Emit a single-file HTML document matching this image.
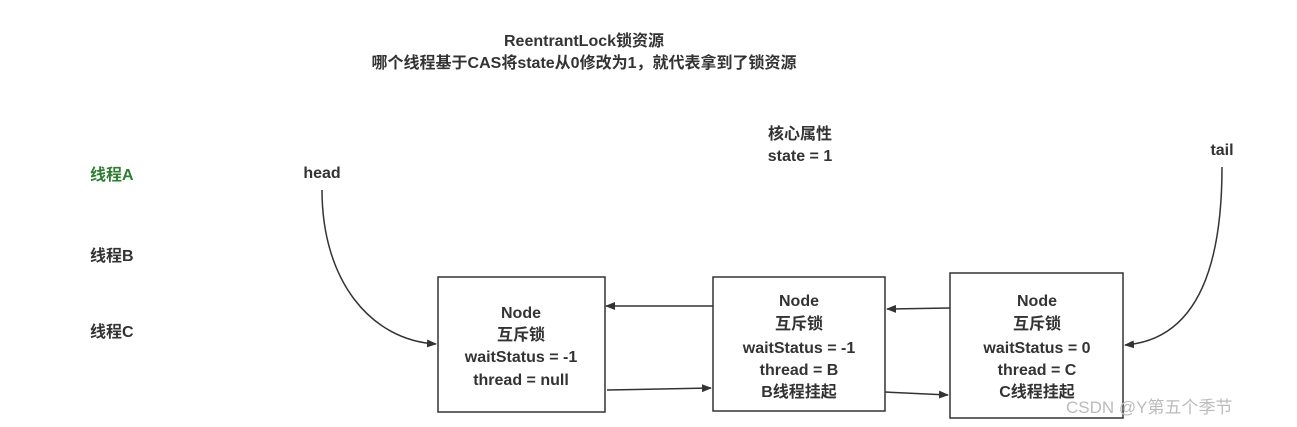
<!DOCTYPE html>
<html><head><meta charset="utf-8"><style>
html,body{margin:0;padding:0;background:#fff;}
svg{display:block}
text{font-family:"Liberation Sans","Noto Sans CJK SC",sans-serif;font-weight:bold;font-size:16px;fill:#333;}
</style></head><body>
<svg width="1297" height="427" viewBox="0 0 1297 427" xmlns="http://www.w3.org/2000/svg">
<defs><marker id="a" markerWidth="10" markerHeight="8" refX="9" refY="4" orient="auto" markerUnits="userSpaceOnUse"><path d="M0,0 L10,4 L0,8 z" fill="#333"/></marker></defs>
<text x="584" y="46" text-anchor="middle">ReentrantLock锁资源</text>
<text x="584" y="68" text-anchor="middle">哪个线程基于CAS将state从0修改为1，就代表拿到了锁资源</text>
<text x="800" y="139" text-anchor="middle">核心属性</text>
<text x="800" y="161" text-anchor="middle">state = 1</text>
<text x="322" y="178" text-anchor="middle">head</text>
<text x="1222" y="155" text-anchor="middle">tail</text>
<text x="90" y="180" style="fill:#2e7d32">线程A</text>
<text x="90" y="261">线程B</text>
<text x="90" y="337">线程C</text>
<g fill="none" stroke="#333" stroke-width="1.5">
<rect x="438" y="277" width="167" height="135"/>
<rect x="713" y="277" width="172" height="134"/>
<rect x="950" y="273" width="173" height="145"/>
<path d="M322,190 C322,280 370,340 436,344" marker-end="url(#a)"/>
<path d="M1222,167 C1222,280 1190,340 1125,345" marker-end="url(#a)"/>
<path d="M713,306 L606,306" marker-end="url(#a)"/>
<path d="M950,308 L887,309" marker-end="url(#a)"/>
<path d="M607,390 L711,388" marker-end="url(#a)"/>
<path d="M885,392 L948,395" marker-end="url(#a)"/>
</g>
<g text-anchor="middle">
<text x="521" y="318">Node</text>
<text x="521" y="340">互斥锁</text>
<text x="521" y="362">waitStatus = -1</text>
<text x="521" y="385">thread = null</text>
<text x="799" y="306">Node</text>
<text x="799" y="329">互斥锁</text>
<text x="799" y="353">waitStatus = -1</text>
<text x="799" y="375">thread = B</text>
<text x="799" y="397">B线程挂起</text>
<text x="1037" y="306">Node</text>
<text x="1037" y="329">互斥锁</text>
<text x="1037" y="353">waitStatus = 0</text>
<text x="1037" y="375">thread = C</text>
<text x="1037" y="397">C线程挂起</text>
</g>
<text x="1066" y="413" style="font-weight:normal;font-size:17px;fill:#bbb">CSDN @Y第五个季节</text>
</svg>
</body></html>
